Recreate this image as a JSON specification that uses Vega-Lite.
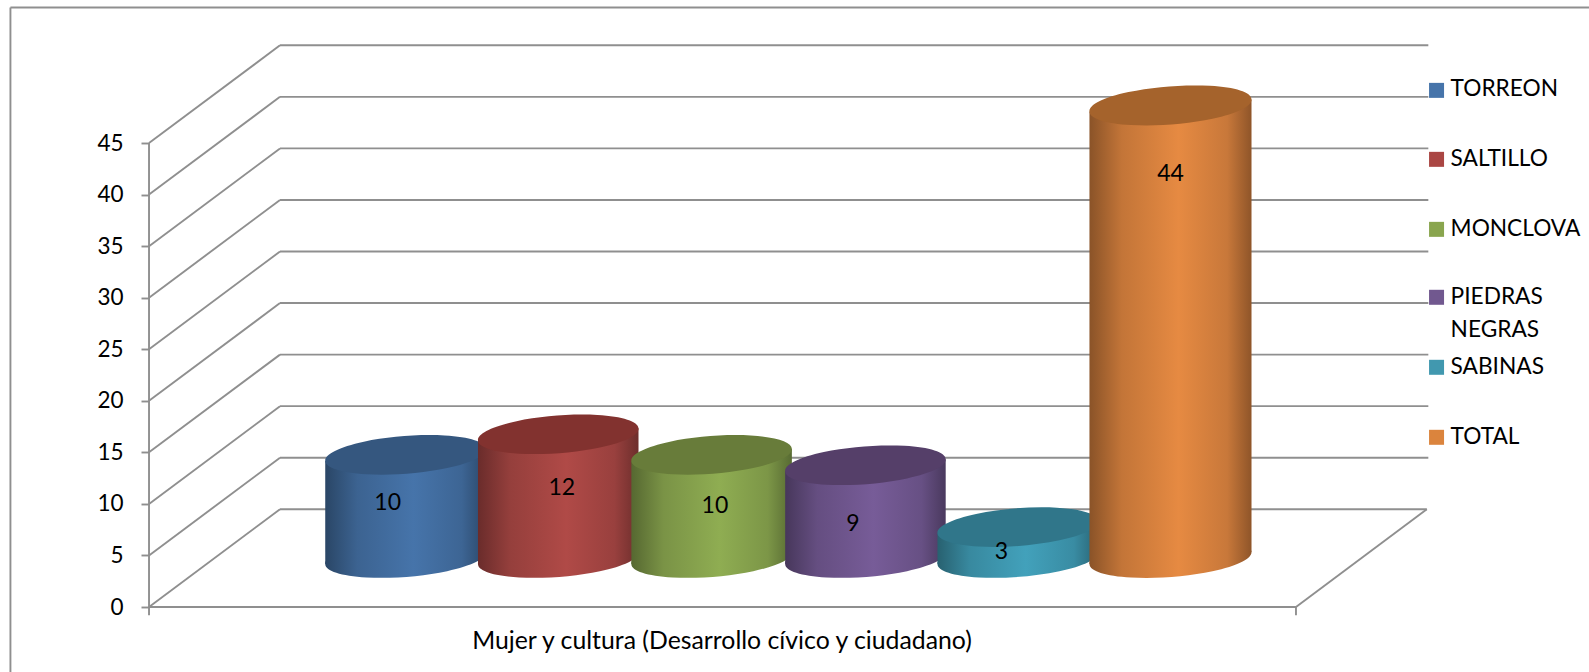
{
"$schema":"https://vega.github.io/schema/vega-lite/v6.json",
"width":1589,"height":672,"padding":0,"autosize":{"type":"none"},"background":"white",
"config":{"font":"Lato","view":{"stroke":null}},
"datasets":{
"frame":[
{"x":-1.594,"y":-6.304,"x2":-1.594,"y2":58.15},{"x":-1.594,"y":58.15,"x2":8.771,"y2":58.15},
{"x":-0.684,"y":-0.8,"x2":-0.684,"y2":45},{"x":6.847,"y":-0.8,"x2":6.847,"y2":0},
{"x":-0.684,"y":0,"x2":6.847,"y2":0},{"x":6.847,"y":0,"x2":7.706,"y2":9.48},
{"x":-0.684,"y":0,"x2":0.176,"y2":9.48},{"x":0.176,"y":9.48,"x2":7.706,"y2":9.48},
{"x":-0.684,"y":5,"x2":0.176,"y2":14.48},{"x":0.176,"y":14.48,"x2":7.716,"y2":14.48},
{"x":-0.684,"y":10,"x2":0.176,"y2":19.48},{"x":0.176,"y":19.48,"x2":7.716,"y2":19.48},
{"x":-0.684,"y":15,"x2":0.176,"y2":24.48},{"x":0.176,"y":24.48,"x2":7.716,"y2":24.48},
{"x":-0.684,"y":20,"x2":0.176,"y2":29.48},{"x":0.176,"y":29.48,"x2":7.716,"y2":29.48},
{"x":-0.684,"y":25,"x2":0.176,"y2":34.48},{"x":0.176,"y":34.48,"x2":7.716,"y2":34.48},
{"x":-0.684,"y":30,"x2":0.176,"y2":39.48},{"x":0.176,"y":39.48,"x2":7.716,"y2":39.48},
{"x":-0.684,"y":35,"x2":0.176,"y2":44.48},{"x":0.176,"y":44.48,"x2":7.716,"y2":44.48},
{"x":-0.684,"y":40,"x2":0.176,"y2":49.48},{"x":0.176,"y":49.48,"x2":7.716,"y2":49.48},
{"x":-0.684,"y":45,"x2":0.176,"y2":54.48},{"x":0.176,"y":54.48,"x2":7.716,"y2":54.48}
],
"body":[
{"name":"TORREON","x":0.473,"y":14.17,"y2":4.17},{"name":"TORREON","x":1.527,"y":15.33,"y2":5.33},
{"name":"SALTILLO","x":1.476,"y":16.17,"y2":4.17},{"name":"SALTILLO","x":2.53,"y":17.33,"y2":5.33},
{"name":"MONCLOVA","x":2.483,"y":14.17,"y2":4.17},{"name":"MONCLOVA","x":3.537,"y":15.33,"y2":5.33},
{"name":"PIEDRAS NEGRAS","x":3.493,"y":13.17,"y2":4.17},{"name":"PIEDRAS NEGRAS","x":4.547,"y":14.33,"y2":5.33},
{"name":"SABINAS","x":4.493,"y":7.17,"y2":4.17},{"name":"SABINAS","x":5.547,"y":8.33,"y2":5.33},
{"name":"TOTAL","x":5.491,"y":48.07,"y2":4.17},{"name":"TOTAL","x":6.555,"y":49.23,"y2":5.33}
],
"ends":[
{"name":"TORREON","x":1.0,"y":4.75,"end":"base"},{"name":"TORREON","x":1.0,"y":14.75,"end":"top"},
{"name":"SALTILLO","x":2.003,"y":4.75,"end":"base"},{"name":"SALTILLO","x":2.003,"y":16.75,"end":"top"},
{"name":"MONCLOVA","x":3.01,"y":4.75,"end":"base"},{"name":"MONCLOVA","x":3.01,"y":14.75,"end":"top"},
{"name":"PIEDRAS NEGRAS","x":4.02,"y":4.75,"end":"base"},{"name":"PIEDRAS NEGRAS","x":4.02,"y":13.75,"end":"top"},
{"name":"SABINAS","x":5.02,"y":4.75,"end":"base"},{"name":"SABINAS","x":5.02,"y":7.75,"end":"top"},
{"name":"TOTAL","x":6.023,"y":4.75,"end":"base"},{"name":"TOTAL","x":6.023,"y":48.65,"end":"top"}
],
"labels":[
{"name":"TORREON","value":10,"x":0.883,"y":10.06},
{"name":"SALTILLO","value":12,"x":2.026,"y":11.54},
{"name":"MONCLOVA","value":10,"x":3.032,"y":9.8},
{"name":"PIEDRAS NEGRAS","value":9,"x":3.938,"y":8.05},
{"name":"SABINAS","value":3,"x":4.913,"y":5.36},
{"name":"TOTAL","value":44,"x":6.023,"y":42.0}
],
"swatches":[
{"name":"TORREON","x":7.77,"y":50.11},{"name":"SALTILLO","x":7.77,"y":43.42},{"name":"MONCLOVA","x":7.77,"y":36.63},
{"name":"PIEDRAS NEGRAS","x":7.77,"y":30.04},{"name":"SABINAS","x":7.77,"y":23.25},{"name":"TOTAL","x":7.77,"y":16.46}
],
"names":[
{"label":"TORREON","x":7.862,"y":50.24},{"label":"SALTILLO","x":7.862,"y":43.5},{"label":"MONCLOVA","x":7.862,"y":36.66},
{"label":"PIEDRAS\nNEGRAS","x":7.862,"y":30.09},{"label":"SABINAS","x":7.862,"y":23.3},{"label":"TOTAL","x":7.862,"y":16.49}
],
"caption":[{"label":"Mujer y cultura (Desarrollo cívico y ciudadano)","x":3.078,"y":-3.37}]
},
"encoding":{
"x":{"field":"x","type":"quantitative","axis":null,"scale":{"domain":[-1.6625,8.771],"nice":false,"zero":false}},
"y":{"field":"y","type":"quantitative","scale":{"domain":[-6.304,58.875],"nice":false,"zero":false},
"axis":{"title":null,"orient":"left","offset":-149,"values":[0,5,10,15,20,25,30,35,40,45],"domain":false,"grid":false,"ticks":true,"tickSize":8,"tickWidth":1.9,"tickColor":"#8f8f8f","labelFontSize":22.5,"labelFont":"Lato","labelColor":"#000000","labelPadding":18,"labelOverlap":false,"labelBaseline":"middle"}}
},
"layer":[
{"data":{"name":"frame"},"mark":{"type":"rule","color":"#8f8f8f","strokeWidth":1.9},"encoding":{"x2":{"field":"x2"},"y2":{"field":"y2"}}},

{"data":{"name":"ends"},"transform":[{"filter":"datum.name==='TORREON' && datum.end==='base'"}],"mark":{"type":"point","filled":true,"opacity":1,"size":25921,"shape":"M-0.997,0.0767A1,0.232 -4.4 1 1 0.997,-0.0767A1,0.232 -4.4 1 1 -0.997,0.0767Z","fill":{"gradient":"linear","stops":[{"offset":0,"color":"#2a4666"},{"offset":0.2,"color":"#3c6391"},{"offset":0.55,"color":"#4674aa"},{"offset":0.85,"color":"#3d6594"},{"offset":1,"color":"#2b486a"}]}}},
{"data":{"name":"body"},"transform":[{"filter":"datum.name==='TORREON'"}],"mark":{"type":"area","orient":"vertical","interpolate":"linear","fill":{"gradient":"linear","stops":[{"offset":0,"color":"#2a4666"},{"offset":0.2,"color":"#3c6391"},{"offset":0.55,"color":"#4674aa"},{"offset":0.85,"color":"#3d6594"},{"offset":1,"color":"#2b486a"}]}},"encoding":{"y2":{"field":"y2"}}},
{"data":{"name":"ends"},"transform":[{"filter":"datum.name==='TORREON' && datum.end==='top'"}],"mark":{"type":"point","filled":true,"opacity":1,"size":25921,"shape":"M-0.997,0.0767A1,0.232 -4.4 1 1 0.997,-0.0767A1,0.232 -4.4 1 1 -0.997,0.0767Z","fill":"#35577f"}},

{"data":{"name":"ends"},"transform":[{"filter":"datum.name==='SALTILLO' && datum.end==='base'"}],"mark":{"type":"point","filled":true,"opacity":1,"size":25921,"shape":"M-0.997,0.0767A1,0.232 -4.4 1 1 0.997,-0.0767A1,0.232 -4.4 1 1 -0.997,0.0767Z","fill":{"gradient":"linear","stops":[{"offset":0,"color":"#6a2c2b"},{"offset":0.2,"color":"#953f3c"},{"offset":0.55,"color":"#b04a47"},{"offset":0.85,"color":"#99403e"},{"offset":1,"color":"#6d2e2c"}]}}},
{"data":{"name":"body"},"transform":[{"filter":"datum.name==='SALTILLO'"}],"mark":{"type":"area","orient":"vertical","interpolate":"linear","fill":{"gradient":"linear","stops":[{"offset":0,"color":"#6a2c2b"},{"offset":0.2,"color":"#953f3c"},{"offset":0.55,"color":"#b04a47"},{"offset":0.85,"color":"#99403e"},{"offset":1,"color":"#6d2e2c"}]}},"encoding":{"y2":{"field":"y2"}}},
{"data":{"name":"ends"},"transform":[{"filter":"datum.name==='SALTILLO' && datum.end==='top'"}],"mark":{"type":"point","filled":true,"opacity":1,"size":25921,"shape":"M-0.997,0.0767A1,0.232 -4.4 1 1 0.997,-0.0767A1,0.232 -4.4 1 1 -0.997,0.0767Z","fill":"#82322f"}},

{"data":{"name":"ends"},"transform":[{"filter":"datum.name==='MONCLOVA' && datum.end==='base'"}],"mark":{"type":"point","filled":true,"opacity":1,"size":25921,"shape":"M-0.997,0.0767A1,0.232 -4.4 1 1 0.997,-0.0767A1,0.232 -4.4 1 1 -0.997,0.0767Z","fill":{"gradient":"linear","stops":[{"offset":0,"color":"#566831"},{"offset":0.2,"color":"#7a9346"},{"offset":0.55,"color":"#8fad52"},{"offset":0.85,"color":"#7c9647"},{"offset":1,"color":"#586b33"}]}}},
{"data":{"name":"body"},"transform":[{"filter":"datum.name==='MONCLOVA'"}],"mark":{"type":"area","orient":"vertical","interpolate":"linear","fill":{"gradient":"linear","stops":[{"offset":0,"color":"#566831"},{"offset":0.2,"color":"#7a9346"},{"offset":0.55,"color":"#8fad52"},{"offset":0.85,"color":"#7c9647"},{"offset":1,"color":"#586b33"}]}},"encoding":{"y2":{"field":"y2"}}},
{"data":{"name":"ends"},"transform":[{"filter":"datum.name==='MONCLOVA' && datum.end==='top'"}],"mark":{"type":"point","filled":true,"opacity":1,"size":25921,"shape":"M-0.997,0.0767A1,0.232 -4.4 1 1 0.997,-0.0767A1,0.232 -4.4 1 1 -0.997,0.0767Z","fill":"#687c3a"}},

{"data":{"name":"ends"},"transform":[{"filter":"datum.name==='PIEDRAS NEGRAS' && datum.end==='base'"}],"mark":{"type":"point","filled":true,"opacity":1,"size":25921,"shape":"M-0.997,0.0767A1,0.232 -4.4 1 1 0.997,-0.0767A1,0.232 -4.4 1 1 -0.997,0.0767Z","fill":{"gradient":"linear","stops":[{"offset":0,"color":"#47375b"},{"offset":0.2,"color":"#654e81"},{"offset":0.55,"color":"#775c98"},{"offset":0.85,"color":"#675084"},{"offset":1,"color":"#4a395e"}]}}},
{"data":{"name":"body"},"transform":[{"filter":"datum.name==='PIEDRAS NEGRAS'"}],"mark":{"type":"area","orient":"vertical","interpolate":"linear","fill":{"gradient":"linear","stops":[{"offset":0,"color":"#47375b"},{"offset":0.2,"color":"#654e81"},{"offset":0.55,"color":"#775c98"},{"offset":0.85,"color":"#675084"},{"offset":1,"color":"#4a395e"}]}},"encoding":{"y2":{"field":"y2"}}},
{"data":{"name":"ends"},"transform":[{"filter":"datum.name==='PIEDRAS NEGRAS' && datum.end==='top'"}],"mark":{"type":"point","filled":true,"opacity":1,"size":25921,"shape":"M-0.997,0.0767A1,0.232 -4.4 1 1 0.997,-0.0767A1,0.232 -4.4 1 1 -0.997,0.0767Z","fill":"#553f69"}},

{"data":{"name":"ends"},"transform":[{"filter":"datum.name==='SABINAS' && datum.end==='base'"}],"mark":{"type":"point","filled":true,"opacity":1,"size":25921,"shape":"M-0.997,0.0767A1,0.232 -4.4 1 1 0.997,-0.0767A1,0.232 -4.4 1 1 -0.997,0.0767Z","fill":{"gradient":"linear","stops":[{"offset":0,"color":"#286170"},{"offset":0.2,"color":"#38899f"},{"offset":0.55,"color":"#42a1bb"},{"offset":0.85,"color":"#398ca3"},{"offset":1,"color":"#296474"}]}}},
{"data":{"name":"body"},"transform":[{"filter":"datum.name==='SABINAS'"}],"mark":{"type":"area","orient":"vertical","interpolate":"linear","fill":{"gradient":"linear","stops":[{"offset":0,"color":"#286170"},{"offset":0.2,"color":"#38899f"},{"offset":0.55,"color":"#42a1bb"},{"offset":0.85,"color":"#398ca3"},{"offset":1,"color":"#296474"}]}},"encoding":{"y2":{"field":"y2"}}},
{"data":{"name":"ends"},"transform":[{"filter":"datum.name==='SABINAS' && datum.end==='top'"}],"mark":{"type":"point","filled":true,"opacity":1,"size":25921,"shape":"M-0.997,0.0767A1,0.232 -4.4 1 1 0.997,-0.0767A1,0.232 -4.4 1 1 -0.997,0.0767Z","fill":"#30768a"}},

{"data":{"name":"ends"},"transform":[{"filter":"datum.name==='TOTAL' && datum.end==='base'"}],"mark":{"type":"point","filled":true,"opacity":1,"size":26400,"shape":"M-0.997,0.0767A1,0.232 -4.4 1 1 0.997,-0.0767A1,0.232 -4.4 1 1 -0.997,0.0767Z","fill":{"gradient":"linear","stops":[{"offset":0,"color":"#8a5328"},{"offset":0.2,"color":"#c37538"},{"offset":0.55,"color":"#e68a42"},{"offset":0.85,"color":"#c8783a"},{"offset":1,"color":"#8f5529"}]}}},
{"data":{"name":"body"},"transform":[{"filter":"datum.name==='TOTAL'"}],"mark":{"type":"area","orient":"vertical","interpolate":"linear","fill":{"gradient":"linear","stops":[{"offset":0,"color":"#8a5328"},{"offset":0.2,"color":"#c37538"},{"offset":0.55,"color":"#e68a42"},{"offset":0.85,"color":"#c8783a"},{"offset":1,"color":"#8f5529"}]}},"encoding":{"y2":{"field":"y2"}}},
{"data":{"name":"ends"},"transform":[{"filter":"datum.name==='TOTAL' && datum.end==='top'"}],"mark":{"type":"point","filled":true,"opacity":1,"size":26400,"shape":"M-0.997,0.0767A1,0.232 -4.4 1 1 0.997,-0.0767A1,0.232 -4.4 1 1 -0.997,0.0767Z","fill":"#a5632c"}},

{"data":{"name":"labels"},"mark":{"type":"text","fontSize":23,"font":"Lato","color":"#000000","align":"center","baseline":"middle"},"encoding":{"text":{"field":"value","type":"quantitative"}}},
{"data":{"name":"swatches"},"mark":{"type":"point","shape":"square","filled":true,"opacity":1,"size":225},"encoding":{"color":{"field":"name","type":"nominal","legend":null,"scale":{"domain":["TORREON","SALTILLO","MONCLOVA","PIEDRAS NEGRAS","SABINAS","TOTAL"],"range":["#4674aa","#aa4643","#89a54e","#71588f","#4198af","#db843d"]}}}},
{"data":{"name":"names"},"mark":{"type":"text","fontSize":22.7,"font":"Lato","color":"#000000","align":"left","baseline":"middle","lineBreak":"\n","lineHeight":33},"encoding":{"text":{"field":"label"}}},
{"data":{"name":"caption"},"mark":{"type":"text","fontSize":24.8,"font":"Lato","color":"#000000","align":"center","baseline":"middle"},"encoding":{"text":{"field":"label"}}}
]
}
